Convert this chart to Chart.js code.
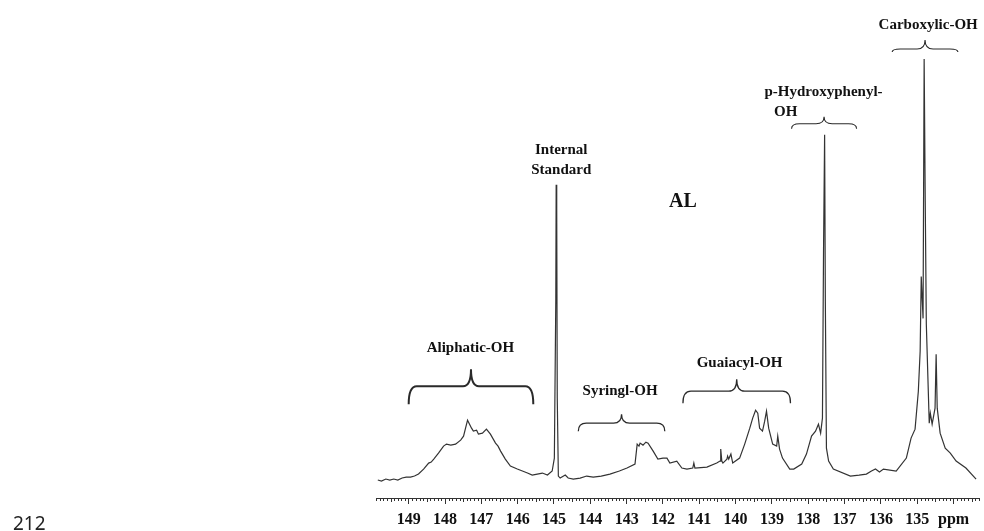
<!DOCTYPE html>
<html>
<head>
<meta charset="utf-8">
<script src="https://cdn.jsdelivr.net/npm/chart.js@4.4.0/dist/chart.umd.min.js"></script>
<style>
  body { margin: 0; background: #fff; }
  #wrap { position: relative; width: 984px; height: 531px; overflow: hidden; }
  #pageNo { position: absolute; left: 13px; top: 510px; font: 19px "Noto Sans", sans-serif; color: #222; }
</style>
</head>
<body>
<div id="wrap">
  <canvas id="nmr" width="984" height="531"></canvas>
  <div id="pageNo">212</div>
</div>
<script>
// chemical shift (ppm) and signal intensity, left to right
const shiftPpm = [
  149.85, 149.75, 149.63, 149.52, 149.41, 149.30, 149.18, 149.07, 148.95, 148.84,
  148.73, 148.59, 148.45, 148.38, 148.31, 148.18, 148.04, 147.96, 147.84, 147.71,
  147.57, 147.49, 147.38, 147.27, 147.22, 147.13, 147.08, 146.97, 146.86, 146.75,
  146.61, 146.54, 146.47, 146.34, 146.20, 146.01, 145.87, 145.73, 145.60, 145.46,
  145.32, 145.18, 145.05, 144.99, 144.95, 144.94, 144.925, 144.91, 144.88, 144.83,
  144.69, 144.61, 144.47, 144.28, 144.10, 143.92, 143.70, 143.46, 143.20, 142.99,
  142.77, 142.71, 142.66, 142.63, 142.55, 142.47, 142.41, 142.27, 142.14, 142.00,
  141.89, 141.81, 141.62, 141.48, 141.34, 141.18, 141.15, 141.12, 140.79, 140.52,
  140.43, 140.41, 140.38, 140.35, 140.24, 140.22, 140.19, 140.13, 140.08, 139.89,
  139.75, 139.61, 139.53, 139.45, 139.39, 139.34, 139.26, 139.20, 139.15, 139.09,
  138.98, 138.87, 138.84, 138.79, 138.71, 138.51, 138.40, 138.18, 138.05, 137.91,
  137.80, 137.72, 137.66, 137.61, 137.58, 137.55, 137.53, 137.50, 137.44, 137.31,
  136.84, 136.60, 136.40, 136.26, 136.15, 136.04, 135.93, 135.58, 135.30, 135.17,
  135.06, 134.97, 134.92, 134.89, 134.86, 134.84, 134.81, 134.78, 134.75, 134.67,
  134.64, 134.59, 134.51, 134.48, 134.45, 134.37, 134.23, 134.09, 133.93, 133.66,
  133.38
];
const intensity = [
  18, 17, 19, 18, 19, 18, 20, 21, 21, 22,
  24, 29, 35, 36, 39, 45, 52, 54, 53, 54,
  58, 62, 78, 70, 67, 68, 64, 65, 69, 64,
  55, 52, 47, 39, 32, 29, 27, 25, 23, 24,
  25, 23, 27, 40, 200, 314, 290, 100, 22, 20,
  23, 20, 19, 20, 22, 21, 22, 24, 27, 30,
  34, 54, 52, 55, 53, 56, 55, 47, 39, 40,
  40, 35, 37, 30, 29, 30, 35, 30, 31, 35,
  37, 49, 37, 35, 39, 42, 39, 44, 35, 40,
  54, 70, 80, 88, 85, 70, 67, 77, 87, 70,
  54, 52, 62, 49, 40, 29, 29, 34, 44, 62,
  67, 74, 65, 80, 247, 364, 197, 50, 37, 29,
  22, 23, 24, 27, 29, 26, 29, 27, 40, 60,
  69, 107, 147, 222, 197, 180, 440, 297, 174, 75,
  85, 74, 90, 144, 90, 65, 50, 45, 37, 30,
  19
];

const tickValues = [149, 148, 147, 146, 145, 144, 143, 142, 141, 140, 139, 138, 137, 136, 135, 134];
const tickLabels = ['149', '148', '147', '146', '145', '144', '143', '142', '141', '140', '139', '138', '137', '136', '135', 'ppm'];

// region labels: text lines, centre shift, height in intensity units
const notes = [
  { lines: ['Aliphatic-OH'], ppm: 147.30, level: 150 },
  { lines: ['Syringl-OH'], ppm: 143.18, level: 107 },
  { lines: ['Guaiacyl-OH'], ppm: 139.89, level: 135 },
  { lines: ['Internal', 'Standard'], ppm: 144.80, level: 349 },
  { lines: ['p-Hydroxyphenyl-'], ppm: 137.58, level: 407 },
  { lines: ['OH'], ppm: 138.62, level: 387 },
  { lines: ['Carboxylic-OH'], ppm: 134.70, level: 474 }
];
const braces = [
  { from: 149.00, to: 145.57, end: 94, bar: 112, tip: 129, lw: 2 },
  { from: 144.33, to: 141.95, end: 67, bar: 75, tip: 84, lw: 1.3 },
  { from: 141.45, to: 138.49, end: 95, bar: 107, tip: 119, lw: 1.3 },
  { from: 138.46, to: 136.67, end: 370, bar: 375, tip: 382, lw: 1.1 },
  { from: 135.69, to: 133.88, end: 447, bar: 450, tip: 459, lw: 1.1 }
];

function drawBrace(ctx, xa, xb, yEnd, yBar, yTip) {
  const x0 = Math.min(xa, xb), x1 = Math.max(xa, xb);
  const xm = (x0 + x1) / 2;
  const r = Math.min(8, (x1 - x0) / 6);
  ctx.beginPath();
  ctx.moveTo(x0, yEnd);
  ctx.quadraticCurveTo(x0, yBar, x0 + r, yBar);
  ctx.lineTo(xm - r, yBar);
  ctx.quadraticCurveTo(xm, yBar, xm, yTip);
  ctx.quadraticCurveTo(xm, yBar, xm + r, yBar);
  ctx.lineTo(x1 - r, yBar);
  ctx.quadraticCurveTo(x1, yBar, x1, yEnd);
  ctx.stroke();
}

const labelPlugin = {
  id: 'labels',
  afterDraw(chart) {
    const ctx = chart.ctx;
    const xs = chart.scales.x, ys = chart.scales.y;
    const bottom = chart.chartArea.bottom;
    ctx.save();
    // minor ruler ticks every 0.1 ppm
    ctx.strokeStyle = '#333';
    ctx.lineWidth = 1;
    ctx.beginPath();
    for (let i = Math.ceil(xs.min * 10); i <= xs.max * 10; i++) {
      if (i % 10 === 0) continue;
      const px = Math.round(xs.getPixelForValue(i / 10)) + 0.5;
      ctx.moveTo(px, bottom);
      ctx.lineTo(px, bottom + (i % 5 === 0 ? 4 : 3));
    }
    ctx.stroke();

    ctx.strokeStyle = '#2a2a2a';
    braces.forEach(b => {
      ctx.lineWidth = b.lw;
      drawBrace(ctx, xs.getPixelForValue(b.from), xs.getPixelForValue(b.to),
        ys.getPixelForValue(b.end), ys.getPixelForValue(b.bar), ys.getPixelForValue(b.tip));
    });

    ctx.fillStyle = '#111';
    ctx.textAlign = 'center';
    ctx.textBaseline = 'middle';
    ctx.font = 'bold 15px "Liberation Serif"';
    notes.forEach(n => {
      const px = xs.getPixelForValue(n.ppm);
      const py = ys.getPixelForValue(n.level);
      n.lines.forEach((t, i) => ctx.fillText(t, px, py + i * 20));
    });
    ctx.font = 'bold 20px "Liberation Serif"';
    ctx.fillText('AL', xs.getPixelForValue(141.45), ys.getPixelForValue(297));
    ctx.restore();
  }
};

new Chart(document.getElementById('nmr').getContext('2d'), {
  type: 'line',
  data: {
    datasets: [{
      data: shiftPpm.map((p, i) => ({ x: p, y: intensity[i] })),
      borderColor: '#333',
      borderWidth: 1.2,
      pointRadius: 0,
      tension: 0,
      fill: false
    }]
  },
  options: {
    responsive: false,
    animation: false,
    layout: { padding: { left: 376, right: 5, top: 19, bottom: -5 } },
    plugins: { legend: { display: false }, tooltip: { enabled: false } },
    scales: {
      x: {
        type: 'linear',
        reverse: true,
        min: 133.3,
        max: 149.9,
        border: { display: true, color: '#333', width: 1 },
        grid: { drawOnChartArea: false, tickLength: 6, tickColor: '#333' },
        ticks: {
          stepSize: 1,
          includeBounds: false,
          autoSkip: false,
          maxRotation: 0,
          padding: 10,
          color: '#111',
          font: { family: '"Liberation Serif"', size: 16, weight: 'bold', lineHeight: 0.75 },
          callback: (v) => {
            const i = tickValues.indexOf(Math.round(v));
            return i >= 0 ? tickLabels[i] : '';
          }
        }
      },
      y: { display: false, min: 0, max: 480 }
    }
  },
  plugins: [labelPlugin]
});
</script>
</body>
</html>
